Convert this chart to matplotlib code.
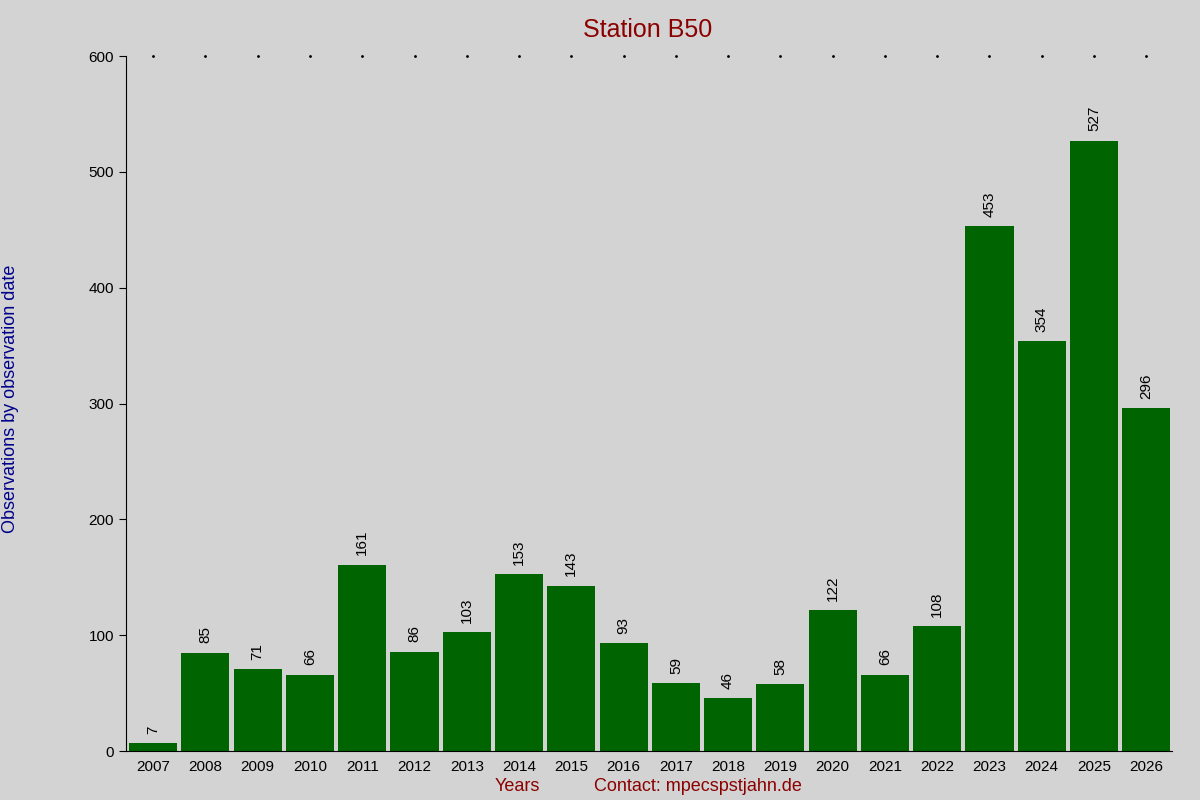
import matplotlib
matplotlib.use("Agg")
import matplotlib.pyplot as plt

years = [str(y) for y in range(2007, 2027)]
values = [7, 85, 71, 66, 161, 86, 103, 153, 143, 93, 59, 46, 58, 122, 66, 108, 453, 354, 527, 296]

bg = "#d3d3d3"
fig = plt.figure(figsize=(12, 8), dpi=100, facecolor=bg)
ax = fig.add_axes([0.105, 0.061, 0.872, 0.869], facecolor=bg)
x = list(range(len(values)))
ax.bar(x, values, width=0.92, color="#006400")
for xi, v in zip(x, values):
    ax.text(xi, v + 8, str(v), rotation=90, ha="center", va="bottom", fontsize=11, family="Liberation Sans")
ax.set_xlim(-0.52, 19.5)
ax.set_ylim(0, 600)
ax.set_xticks(x)
ax.set_xticklabels(years, fontsize=11, family="Liberation Sans")
ax.set_yticks(range(0, 601, 100))
ax.set_yticklabels([str(t) for t in range(0, 601, 100)], fontsize=11, family="Liberation Sans")
ax.tick_params(axis="x", length=0, pad=6)
ax.tick_params(axis="y", length=5, direction="out")
for s in ["top", "right"]:
    ax.spines[s].set_visible(False)
# tiny dots along the top
ax.scatter(x, [600] * len(x), s=1, color="black", clip_on=False)
fig.text(0.54, 0.962, "Station B50", ha="center", va="center", fontsize=18, color="#8b0000", family="Liberation Sans")
fig.text(0.431, 0.017, "Years", ha="center", va="center", fontsize=13, color="#8b0000", family="Liberation Sans")
fig.text(0.582, 0.017, "Contact: mpecspstjahn.de", ha="center", va="center", fontsize=13, color="#8b0000", family="Liberation Sans")
fig.text(0.009, 0.502, "Observations by observation date", rotation=90, ha="center", va="center", fontsize=13, color="#00008b", family="Liberation Sans")
fig.savefig("out.png", dpi=100, facecolor=bg)
